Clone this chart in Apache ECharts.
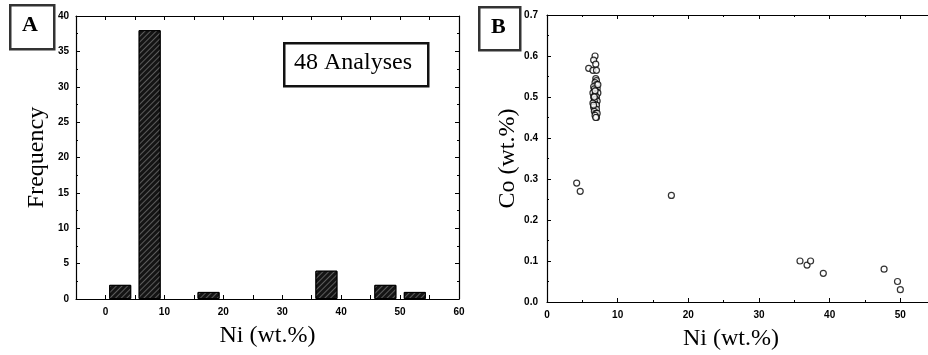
<!DOCTYPE html>
<html><head><meta charset="utf-8">
<script src="https://cdn.jsdelivr.net/npm/echarts@6/dist/echarts.min.js"></script>
<style>html,body{margin:0;padding:0;background:#fff}#c{width:928px;height:355px}</style>
</head><body><div id="c"></div>
<script>
// Panel A: histogram of Ni (wt.%)
const binCenters = [2.5, 7.5, 17.5, 37.5, 47.5, 52.5];
const frequency = [2, 38, 1, 4, 2, 1];
const analysesLabel = '48 Analyses';
// Panel B: Co vs Ni (wt.%)
const niValues = [4.2, 4.7, 17.6, 35.8, 36.8, 37.3, 39.1, 47.7, 49.6, 50.0,
  6.8, 6.6, 6.9, 5.9, 6.5, 7.0,
  6.9, 7.0, 6.8, 7.0, 6.6, 7.1, 6.7, 6.9, 6.5, 7.2, 6.8, 7.0, 6.6, 6.9, 7.1, 6.7,
  6.5, 6.9, 7.0, 6.6, 6.8, 7.0, 6.7, 6.9, 7.1, 6.8, 7.0, 6.9, 6.6, 7.2, 6.8, 6.7];
const coValues = [0.29, 0.27, 0.26, 0.10, 0.09, 0.10, 0.07, 0.08, 0.05, 0.03,
  0.60, 0.59, 0.58, 0.57, 0.565, 0.565,
  0.545, 0.54, 0.535, 0.53, 0.525, 0.52, 0.52, 0.515, 0.51, 0.51, 0.505, 0.50, 0.50, 0.495, 0.49, 0.49,
  0.485, 0.48, 0.48, 0.475, 0.47, 0.47, 0.465, 0.46, 0.46, 0.455, 0.45, 0.45, 0.48, 0.53, 0.515, 0.50];

const chart = echarts.init(document.getElementById('c'));
const tickFont = {fontFamily: 'Liberation Sans', fontWeight: 'bold', fontSize: 10, color: '#000'};
const nameFont = {fontFamily: 'Liberation Serif', fontSize: 24, color: '#000'};
const line = {show: true, onZero: false, lineStyle: {color: '#000', width: 1.2}};
const tick = {show: true, inside: true, length: 4, lineStyle: {color: '#000', width: 1}};
const minor = {show: true, splitNumber: 2, length: 2, lineStyle: {color: '#000', width: 1}};

chart.setOption({
  animation: false,
  grid: [
    {left: 76, top: 16, width: 383, bottom: 56, outerBoundsMode: 'none', containLabel: false},
    {left: 547, top: 15, width: 424, bottom: 53, outerBoundsMode: 'none', containLabel: false}
  ],
  xAxis: [
    {gridIndex: 0, type: 'value', min: -5, max: 60, interval: 5, axisLine: line, axisTick: tick,
     splitLine: {show: false},
     axisLabel: Object.assign({margin: 8, formatter: v => (v % 10 === 0 ? String(v) : '')}, tickFont),
     name: 'Ni (wt.%)', nameLocation: 'middle', nameGap: 25, nameTextStyle: nameFont},
    {gridIndex: 0, type: 'value', position: 'top', min: -5, max: 60, interval: 5, axisLine: line,
     axisTick: tick, axisLabel: {show: false}, splitLine: {show: false}},
    {gridIndex: 1, type: 'value', min: 0, max: 60, interval: 10, axisLine: line, axisTick: tick,
     minorTick: minor, splitLine: {show: false},
     axisLabel: Object.assign({margin: 8}, tickFont),
     name: 'Ni (wt.%)', nameLocation: 'middle', nameGap: 25,
     nameTextStyle: Object.assign({padding: [0, 56, 0, 0]}, nameFont)},
    {gridIndex: 1, type: 'value', position: 'top', min: 0, max: 60, interval: 10, axisLine: line,
     axisTick: tick, minorTick: minor, axisLabel: {show: false}, splitLine: {show: false}}
  ],
  yAxis: [
    {gridIndex: 0, type: 'value', min: 0, max: 40, interval: 5, axisLine: line, axisTick: tick,
     minorTick: minor, splitLine: {show: false},
     axisLabel: Object.assign({margin: 7}, tickFont),
     name: 'Frequency', nameLocation: 'middle', nameGap: 27, nameTextStyle: nameFont},
    {gridIndex: 0, type: 'value', position: 'right', min: 0, max: 40, interval: 5, axisLine: line,
     axisTick: tick, minorTick: minor, axisLabel: {show: false}, splitLine: {show: false}},
    {gridIndex: 1, type: 'value', min: 0, max: 0.7, interval: 0.1, axisLine: line, axisTick: tick,
     minorTick: minor, splitLine: {show: false},
     axisLabel: Object.assign({margin: 9, formatter: v => v.toFixed(1)}, tickFont),
     name: 'Co (wt.%)', nameLocation: 'middle', nameGap: 27, nameTextStyle: nameFont}
  ],
  series: [
    {type: 'bar', xAxisIndex: 0, yAxisIndex: 0, barWidth: 22,
     data: binCenters.map((c, i) => [c, frequency[i]]),
     itemStyle: {color: '#141414', borderColor: '#000', borderWidth: 1,
       decal: {symbol: 'rect', color: 'rgba(255,255,255,0.3)', dashArrayX: [1, 0], dashArrayY: [1, 3], rotation: -Math.PI / 4}}},
    {type: 'scatter', xAxisIndex: 2, yAxisIndex: 2, symbol: 'circle', symbolSize: 6,
     data: niValues.map((x, i) => [x, coValues[i]]),
     itemStyle: {color: '#fff', borderColor: '#000', borderWidth: 1.2}}
  ],
  graphic: [
    {type: 'rect', left: 9, top: 4, shape: {width: 44, height: 44},
     style: {fill: '#fff', stroke: '#333', lineWidth: 2.5}},
    {type: 'text', left: 22, top: 14, style: {text: 'A', font: 'bold 22px "Liberation Serif"', fill: '#000'}},
    {type: 'rect', left: 478, top: 6, shape: {width: 41, height: 43},
     style: {fill: '#fff', stroke: '#333', lineWidth: 2.5}},
    {type: 'text', left: 491, top: 16, style: {text: 'B', font: 'bold 22px "Liberation Serif"', fill: '#000'}},
    {type: 'rect', left: 283, top: 42, shape: {width: 144, height: 43},
     style: {fill: '#fff', stroke: '#111', lineWidth: 2.5}},
    {type: 'text', left: 294, top: 51, style: {text: analysesLabel, font: '24px "Liberation Serif"', fill: '#000'}}
  ]
});
</script></body></html>
